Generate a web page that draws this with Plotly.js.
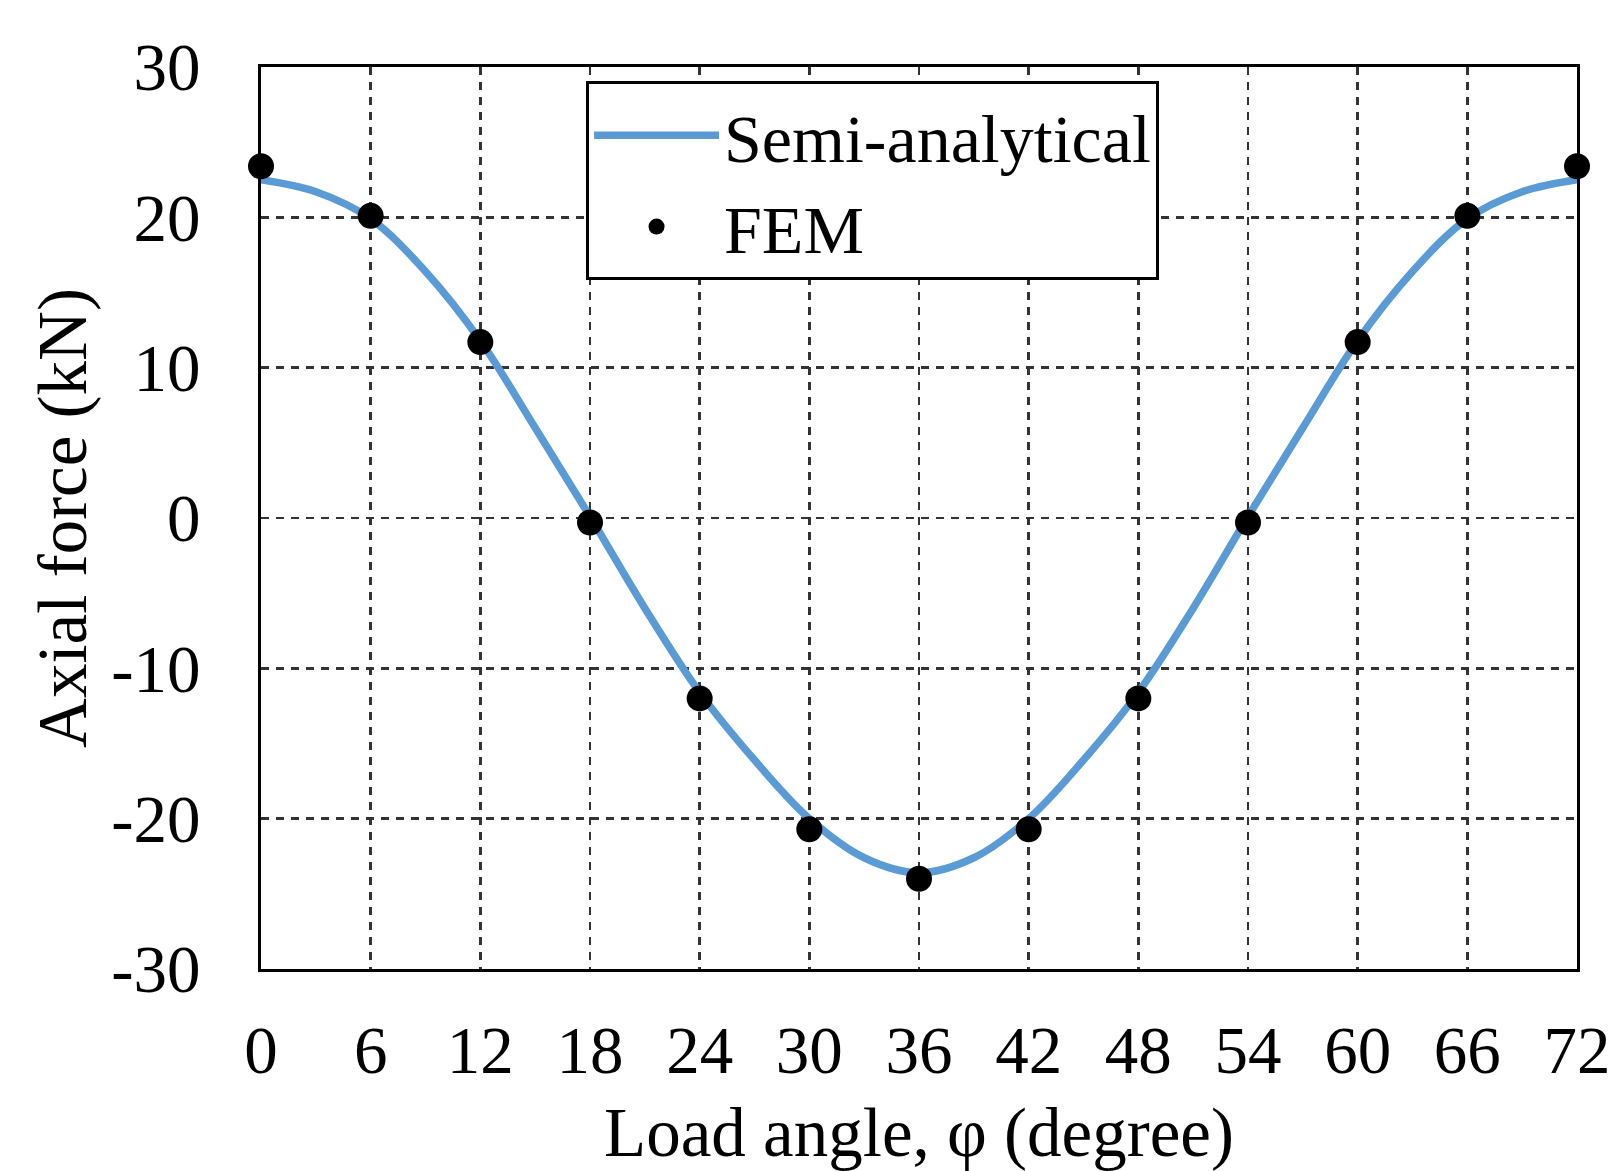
<!DOCTYPE html>
<html>
<head>
<meta charset="utf-8">
<script src="https://cdn.plot.ly/plotly-3.0.1.min.js"></script>
<style>
html, body { margin: 0; padding: 0; background: #ffffff; }
#chart { width: 1616px; height: 1171px; }
</style>
</head>
<body>
<div id="chart"></div>
<script>
// Load angle (degree) for the semi-analytical curve
const curveAngle = [0, 3, 6, 9, 12, 15, 18, 21, 24, 27, 30, 33, 36, 39, 42, 45, 48, 51, 54, 57, 60, 63, 66, 69, 72];
// Semi-analytical axial force (kN)
const curveForce = [22.5, 21.7, 19.9, 16.4, 11.8, 6.0, 0.1, -6.0, -11.6, -16.1, -20.0, -22.6, -23.6, -22.6, -20.0, -16.1, -11.6, -6.0, 0.1, 6.0, 11.8, 16.4, 19.9, 21.7, 22.5];
// FEM points
const femAngle = [0, 6, 12, 18, 24, 30, 36, 42, 48, 54, 60, 66, 72];
const femForce = [23.4, 20.1, 11.7, -0.3, -12.0, -20.7, -24.0, -20.7, -12.0, -0.3, 11.7, 20.1, 23.4];
// Tick values
const xTicks = [0, 6, 12, 18, 24, 30, 36, 42, 48, 54, 60, 66, 72];
const yTicks = [-30, -20, -10, 0, 10, 20, 30];

const fontFamily = '"Liberation Serif", "Times New Roman", serif';

const traces = [
  {
    x: curveAngle,
    y: curveForce,
    type: 'scatter',
    mode: 'lines',
    name: 'Semi-analytical',
    line: { color: '#5B9BD5', width: 7.5, shape: 'spline', smoothing: 1 }
  },
  {
    x: femAngle,
    y: femForce,
    type: 'scatter',
    mode: 'markers',
    name: 'FEM',
    cliponaxis: false,
    marker: { color: '#000000', size: 26 }
  }
];

const layout = {
  width: 1616,
  height: 1171,
  margin: { l: 261, r: 39, t: 67, b: 202 },
  paper_bgcolor: '#ffffff',
  plot_bgcolor: '#ffffff',
  font: { family: fontFamily, size: 66, color: '#000000' },
  showlegend: true,
  legend: {
    x: 0.247, y: 0.984, xanchor: 'left', yanchor: 'top',
    bgcolor: '#ffffff', bordercolor: '#000000', borderwidth: 3,
    font: { family: fontFamily, size: 68, color: '#000000' },
    itemwidth: 125,
    tracegroupgap: 0
  },
  xaxis: {
    range: [0, 72],
    tickmode: 'array',
    tickvals: xTicks,
    ticktext: xTicks.map(String),
    ticks: '',
    ticklabelstandoff: 21,
    showline: true, mirror: true, linecolor: '#000000', linewidth: 3,
    showgrid: true, gridcolor: '#333333', gridwidth: 2.6, griddash: '8px,7px',
    zeroline: false,
    tickfont: { family: fontFamily, size: 67, color: '#000000' },
    title: { text: 'Load angle, φ (degree)', font: { family: fontFamily, size: 69, color: '#000000' }, standoff: 59 }
  },
  yaxis: {
    range: [-30, 30],
    tickmode: 'array',
    tickvals: yTicks,
    ticktext: yTicks.map(String),
    ticks: '',
    ticklabelstandoff: 44,
    showline: true, mirror: true, linecolor: '#000000', linewidth: 3,
    showgrid: true, gridcolor: '#333333', gridwidth: 2.6, griddash: '8px,7px',
    zeroline: false,
    tickfont: { family: fontFamily, size: 67, color: '#000000' },
    title: { text: 'Axial force (kN)', font: { family: fontFamily, size: 69, color: '#000000' }, standoff: 3 }
  }
};

Plotly.newPlot('chart', traces, layout, { displayModeBar: false, staticPlot: true });
</script>
</body>
</html>
